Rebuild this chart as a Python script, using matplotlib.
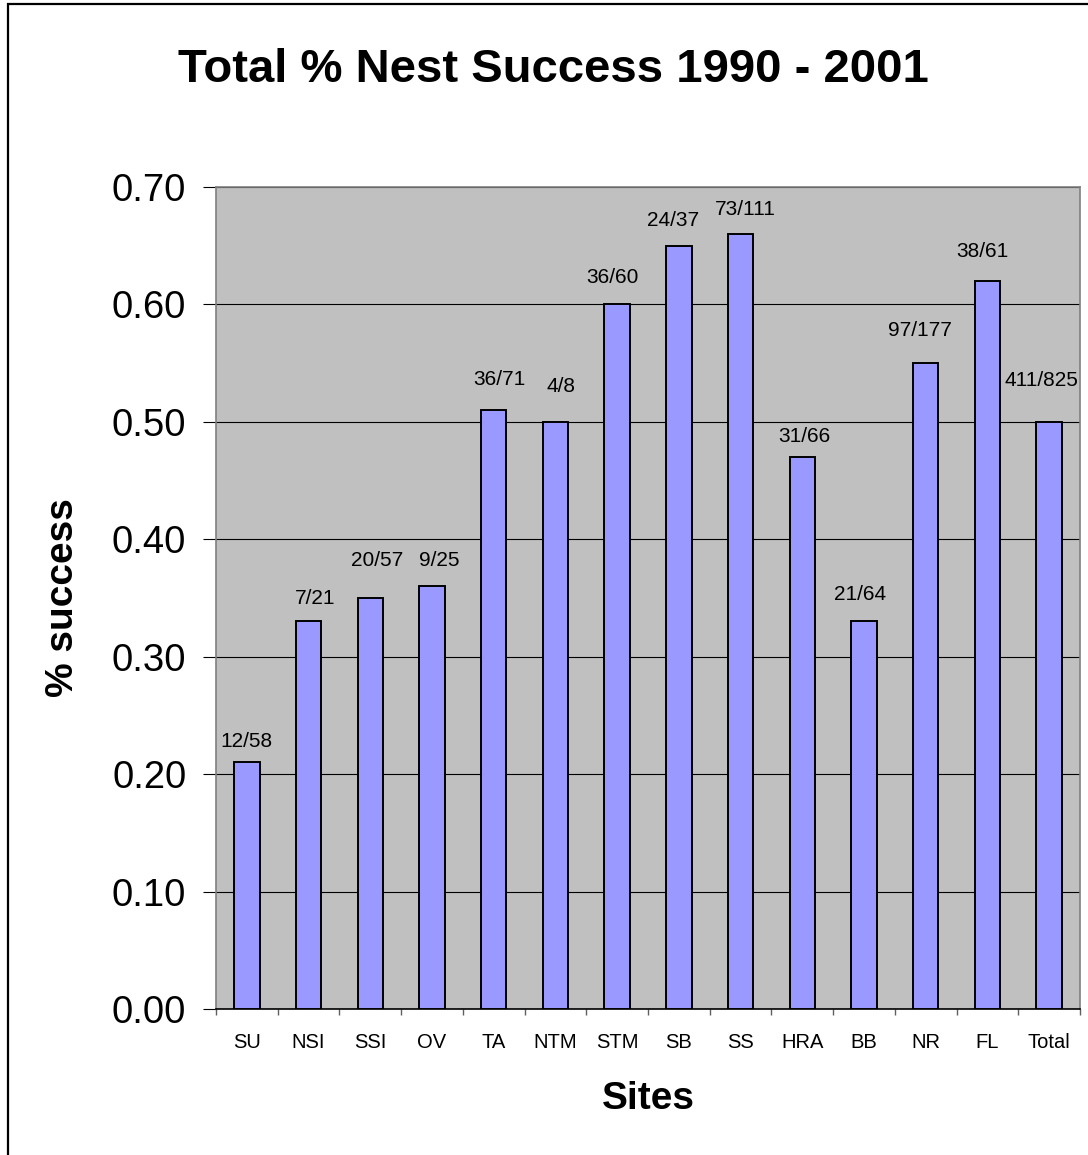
import matplotlib
matplotlib.use('Agg')
import matplotlib.pyplot as plt
import numpy as np
from matplotlib.patches import Rectangle
from matplotlib.ticker import FormatStrFormatter

plt.rcParams['font.family'] = ['Liberation Sans', 'DejaVu Sans']

sites = ['SU', 'NSI', 'SSI', 'OV', 'TA', 'NTM', 'STM', 'SB', 'SS', 'HRA', 'BB', 'NR', 'FL', 'Total']
success = [0.21, 0.33, 0.35, 0.36, 0.51, 0.50, 0.60, 0.65, 0.66, 0.47, 0.33, 0.55, 0.62, 0.50]
counts = ['12/58', '7/21', '20/57', '9/25', '36/71', '4/8', '36/60', '24/37', '73/111',
          '31/66', '21/64', '97/177', '38/61', '411/825']

# label offsets from bar top (pixels), as placed in the original sheet
label_dx = [0, 7, 7, 7, 6, 6, -5, -6, 5, 2, -4, -6, -5, -8]
label_dy = [21, 23, 37, 26, 31, 35, 27, 25, 24, 21, 27, 33, 29, 41]

W, H = 1088, 1155
fig = plt.figure(figsize=(W / 100, H / 100), dpi=100)
ax = fig.add_axes([216 / W, 1 - 1009 / H, (1080 - 216) / W, (1009 - 187) / H])
ax.set_facecolor('#C0C0C0')

x = np.arange(len(sites))
ax.bar(x, success, width=0.41, color='#9999FF', edgecolor='black', linewidth=1.4, zorder=3)

for i, lab in enumerate(counts):
    ax.annotate(lab, (x[i], success[i]), xytext=(label_dx[i] * 0.72, label_dy[i] * 0.72),
                textcoords='offset points', ha='center', va='center', fontsize=15, zorder=4)

ax.set_xlim(-0.5, len(sites) - 0.5)
ax.set_ylim(0, 0.70)
ax.set_yticks(np.arange(0, 0.71, 0.1))
ax.yaxis.set_major_formatter(FormatStrFormatter('%.2f'))
ax.grid(axis='y', color='black', linewidth=0.8, zorder=1)

ax.set_xticks(x)
ax.set_xticklabels(sites)
ax.set_xticks(np.arange(-0.5, len(sites), 1), minor=True)
ax.tick_params(axis='x', which='major', length=0, pad=17, labelsize=14.5)
ax.tick_params(axis='x', which='minor', length=4.5, width=1, color='#606060', direction='out')
ax.tick_params(axis='y', length=9.4, width=0.8, pad=12, labelsize=27.5, direction='out')

for s in ['top', 'right', 'left']:
    ax.spines[s].set_color('#808080')
    ax.spines[s].set_linewidth(1.2)
ax.spines['bottom'].set_color('black')
ax.spines['bottom'].set_linewidth(1.2)

fig.text(63 / W, 1 - 598 / H, '% success', rotation=90, ha='center', va='center',
         fontsize=28, fontweight='bold')
fig.text(648 / W, 1 - 1099 / H, 'Sites', ha='center', va='center', fontsize=28, fontweight='bold')
fig.text(553 / W, 1 - 70 / H, 'Total % Nest Success 1990 - 2001', ha='center', va='center',
         fontsize=34, fontweight='bold')

fig.patches.append(Rectangle((8 / W, -0.05), 1.2, 1.05 - 3.7 / H, transform=fig.transFigure,
                             fill=False, edgecolor='black', linewidth=1.6, clip_on=False))

fig.savefig('out.png', dpi=100)
